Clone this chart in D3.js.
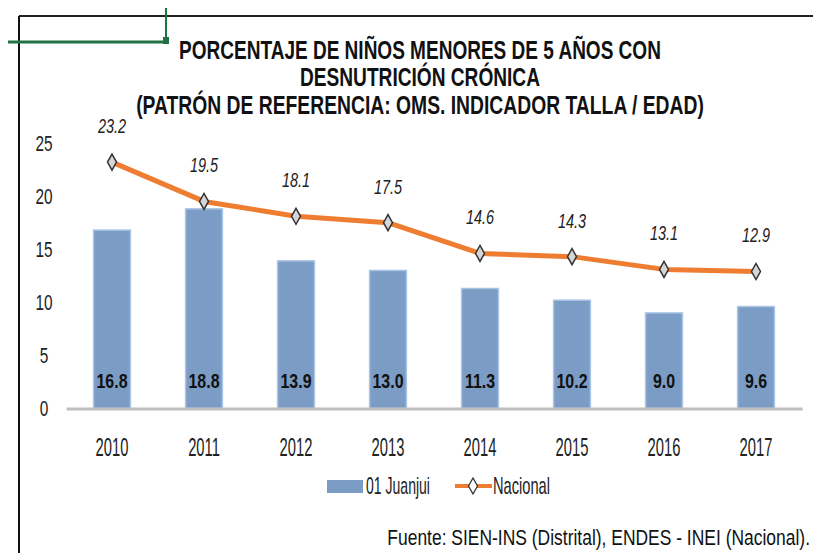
<!DOCTYPE html>
<html>
<head>
<meta charset="utf-8">
<script src="https://cdn.jsdelivr.net/npm/d3@7"></script>
<style>
  body { margin: 0; background: #fff; }
  text { font-family: "Liberation Sans", Arial, sans-serif; }
</style>
</head>
<body>
<div id="chart"></div>
<script>
// data
var years = ["2010", "2011", "2012", "2013", "2014", "2015", "2016", "2017"];
var juanjui = [16.8, 18.8, 13.9, 13.0, 11.3, 10.2, 9.0, 9.6];
var nacional = [23.2, 19.5, 18.1, 17.5, 14.6, 14.3, 13.1, 12.9];
var yTicks = [0, 5, 10, 15, 20, 25];
var titleLines = ["PORCENTAJE DE NIÑOS MENORES DE 5 AÑOS CON", "DESNUTRICIÓN CRÓNICA", "(PATRÓN DE REFERENCIA: OMS. INDICADOR TALLA / EDAD)"];
var legendNames = ["01 Juanjui", "Nacional"];
var source = "Fuente: SIEN-INS (Distrital), ENDES - INEI (Nacional).";

var width = 813, height = 553;
var margin = {top: 143, right: 11, bottom: 144, left: 66};
var plotW = width - margin.left - margin.right;
var plotH = height - margin.top - margin.bottom;

// squeeze text sideways (the original uses a narrow font)
function narrow(sel, sx)
{
    sel.each(function() {
        var t = d3.select(this);
        var x = +t.attr("x") || 0;
        t.attr("transform", "translate(" + x + ",0) scale(" + sx + ",1) translate(" + (-x) + ",0)");
    });
}

// squeeze a text so it takes a given width
function fitWidth(sel, w)
{
    sel.each(function() {
        var natural = this.getComputedTextLength();
        narrow(d3.select(this), w / natural);
    });
}

var svg = d3.select("#chart")
    .append("svg")
    .attr("width", width)
    .attr("height", height);

// frame lines round the pasted chart
svg.append("line").attr("x1", 19).attr("x2", 813).attr("y1", 16).attr("y2", 16)
    .attr("stroke", "#222").attr("stroke-width", 2);
svg.append("line").attr("x1", 19).attr("x2", 19).attr("y1", 16).attr("y2", 553)
    .attr("stroke", "#111").attr("stroke-width", 2);
// green selection marks
svg.append("line").attr("x1", 8).attr("x2", 166).attr("y1", 42).attr("y2", 42)
    .attr("stroke", "#217346").attr("stroke-width", 3);
svg.append("line").attr("x1", 166).attr("x2", 166).attr("y1", 8).attr("y2", 42)
    .attr("stroke", "#217346").attr("stroke-width", 2);
svg.append("rect").attr("x", 163).attr("y", 37).attr("width", 6).attr("height", 7)
    .attr("fill", "#217346");

// title
var titleWidths = [482, 240, 568];
var title = svg.append("g").selectAll("text")
    .data(titleLines)
    .enter().append("text")
    .attr("x", 420)
    .attr("y", function(d, i) { return 59 + i * 27.5; })
    .attr("text-anchor", "middle")
    .style("font-size", "25px")
    .style("font-weight", "bold")
    .attr("fill", "#111")
    .text(function(d) { return d; });
title.each(function(d, i) { fitWidth(d3.select(this), titleWidths[i]); });

var g = svg.append("g")
    .attr("transform", "translate(" + margin.left + "," + margin.top + ")");

var xScale = d3.scaleBand()
    .domain(years)
    .range([0, plotW])
    .paddingInner(0.6)
    .paddingOuter(0.3);

var yScale = d3.scaleLinear()
    .domain([0, 25])
    .range([plotH - 0.5, 0]);

var xMid = function(d) { return xScale(d) + xScale.bandwidth() / 2; };

// y axis labels (no line)
var yAxis = g.append("g")
    .attr("transform", "translate(-16,0)")
    .call(d3.axisLeft(yScale).tickValues(yTicks).tickSize(0).tickPadding(0));
yAxis.select(".domain").remove();
yAxis.selectAll("text")
    .attr("text-anchor", "middle")
    .attr("x", -6)
    .style("font-size", "22px")
    .style("font-family", "'Liberation Sans', Arial, sans-serif")
    .attr("fill", "#222")
    .call(narrow, 0.7);

// bars
g.selectAll(".bar")
    .data(juanjui)
    .enter().append("rect")
    .attr("class", "bar")
    .attr("x", function(d, i) { return xScale(years[i]); })
    .attr("width", xScale.bandwidth())
    .attr("y", function(d) { return yScale(d); })
    .attr("height", function(d) { return yScale(0) - yScale(d); })
    .attr("fill", "#7b9cc4")
    .attr("stroke", "#a8c3e3")
    .attr("stroke-width", 1.5);

// x axis
var xAxis = g.append("g")
    .attr("transform", "translate(0," + yScale(0) + ")")
    .call(d3.axisBottom(xScale).tickSize(0).tickPadding(30));
xAxis.select(".domain").attr("stroke", "#bfbfbf").attr("stroke-width", 3);
xAxis.selectAll("text")
    .style("font-size", "25px")
    .style("font-family", "'Liberation Sans', Arial, sans-serif")
    .attr("fill", "#222")
    .call(narrow, 0.59);

// bar value labels
g.selectAll(".barLabel")
    .data(juanjui)
    .enter().append("text")
    .attr("class", "barLabel")
    .attr("x", function(d, i) { return xMid(years[i]); })
    .attr("y", yScale(0) - 20)
    .attr("text-anchor", "middle")
    .style("font-size", "21px")
    .style("font-weight", "bold")
    .attr("fill", "#111")
    .text(function(d) { return d.toFixed(1); })
    .call(narrow, 0.76);

// national line
var line = d3.line()
    .x(function(d, i) { return xMid(years[i]); })
    .y(function(d) { return yScale(d); });

g.append("path")
    .datum(nacional)
    .attr("fill", "none")
    .attr("stroke", "#ee7d31")
    .attr("stroke-width", 5)
    .attr("stroke-linejoin", "round")
    .attr("d", line);

var diamond = "M0,-8L4.5,0L0,8L-4.5,0Z";
g.selectAll(".marker")
    .data(nacional)
    .enter().append("path")
    .attr("class", "marker")
    .attr("transform", function(d, i) { return "translate(" + xMid(years[i]) + "," + yScale(d) + ")"; })
    .attr("d", diamond)
    .attr("fill", "#d6d6d6")
    .attr("stroke", "#333")
    .attr("stroke-width", 1.5);

g.selectAll(".lineLabel")
    .data(nacional)
    .enter().append("text")
    .attr("class", "lineLabel")
    .attr("x", function(d, i) { return xMid(years[i]); })
    .attr("y", function(d) { return yScale(d) - 29; })
    .attr("text-anchor", "middle")
    .style("font-size", "21px")
    .style("font-style", "italic")
    .attr("fill", "#222")
    .text(function(d) { return d.toFixed(1); })
    .call(narrow, 0.69);

// legend
var legend = svg.append("g");
legend.append("rect")
    .attr("x", 327).attr("y", 480).attr("width", 36).attr("height", 13)
    .attr("fill", "#7b9cc4");
legend.append("text")
    .attr("x", 366).attr("y", 494)
    .style("font-size", "23px")
    .attr("fill", "#222")
    .text(legendNames[0])
    .call(fitWidth, 64);
legend.append("line")
    .attr("x1", 455).attr("x2", 492).attr("y1", 486).attr("y2", 486)
    .attr("stroke", "#ee7d31").attr("stroke-width", 4);
legend.append("path")
    .attr("transform", "translate(473,486)")
    .attr("d", diamond)
    .attr("fill", "#fff")
    .attr("stroke", "#333")
    .attr("stroke-width", 1.3);
legend.append("text")
    .attr("x", 493).attr("y", 494)
    .style("font-size", "23px")
    .attr("fill", "#222")
    .text(legendNames[1])
    .call(fitWidth, 57);

// source note
svg.append("text")
    .attr("x", 810).attr("y", 545)
    .attr("text-anchor", "end")
    .style("font-size", "22px")
    .attr("fill", "#111")
    .text(source)
    .call(fitWidth, 423);
</script>
</body>
</html>
